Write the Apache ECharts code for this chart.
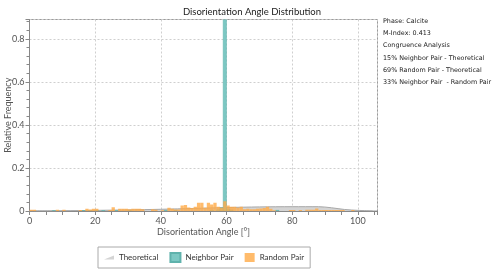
<!DOCTYPE html>
<html><head><meta charset="utf-8">
<script src="https://cdn.jsdelivr.net/npm/echarts@6/dist/echarts.min.js"></script>
<style>html,body{margin:0;padding:0;background:#fff}#c{width:500px;height:273px}</style>
</head><body><div id="c"></div>
<script>
// Bins are 1 degree wide, value = bin start angle
var randomAngles = [0,1,8,10,15,17,18,19,20,24,25,27,28,29,30,31,32,33,34,37,38,40,42,43,44,45,46,47,48,49,50,51,52,53,54,55,56,57,58,59,60,61,62,63,64,65,66,67,68,69,70,71,72,73,74,79,80,82,84,85,86,87,88,89,90,91,92,93,94,95,98];
var randomValues = [0.006,0.006,0.006,0.006,0.005,0.01,0.007,0.01,0.01,0.005,0.018,0.01,0.01,0.01,0.008,0.01,0.01,0.01,0.008,0.008,0.006,0.004,0.015,0.01,0.007,0.007,0.026,0.028,0.016,0.014,0.02,0.038,0.038,0.015,0.038,0.03,0.038,0.02,0.015,0.045,0.025,0.02,0.02,0.015,0.02,0.008,0.01,0.008,0.008,0.01,0.012,0.014,0.02,0.01,0.004,0.005,0.005,0.005,0.006,0.006,0.006,0.012,0.005,0.005,0.005,0.005,0.005,0.005,0.005,0.005,0.005];
var neighborAngles = [7,16,18,20,22,26,30,41,44,55,57,58,59,60,61,75];
var neighborValues = [0.002,0.002,0.002,0.002,0.002,0.002,0.002,0.003,0.003,0.004,0.006,0.015,0.93,0.01,0.005,0.003];
var theoAngles = [0,10,20,30,40,50,60,70,80,88,92,96,100,104.5];
var theoValues = [0,0.001,0.003,0.005,0.008,0.012,0.016,0.019,0.02,0.02,0.015,0.007,0.003,0];
var xTickLabels = [0,20,40,60,80,100];
var yTickLabels = [0,0.2,0.4,0.6,0.8];
var infoLines = ['Phase: Calcite','M-Index: 0.413','Congruence Analysis','15% Neighbor Pair - Theoretical','69% Random Pair - Theoretical','33% Neighbor Pair  - Random Pair'];

function zip(a,b){return a.map(function(v,i){return [v,b[i]];});}
function binItem(params, api){
  var x0 = api.value(0), v = api.value(1);
  var p0 = api.coord([x0, v]);
  var p1 = api.coord([x0 + 1, 0]);
  return {type:'rect', shape:{x:p0[0], y:p0[1], width:p1[0]-p0[0], height:p1[1]-p0[1]}, style: api.style()};
}
var chart = echarts.init(document.getElementById('c'), null, {renderer:'canvas'});
var font = 'Lato, "Noto Sans", sans-serif';
chart.setOption({
  animation:false,
  title:[{text:'Disorientation Angle Distribution', left:247, textAlign:'center', top:2,
    textStyle:{fontSize:9.5, fontWeight:'normal', color:'#222', fontFamily:font}},
    {text:infoLines.join('\n'), left:383, top:15, padding:0,
    textStyle:{fontSize:6.4, fontWeight:'normal', color:'#222', fontFamily:'"DejaVu Sans", sans-serif', lineHeight:12.3}}],
  grid:{left:29.5, right:122.5, top:19.5, bottom:62, show:true, borderColor:'#9a9a9a', borderWidth:1, outerBoundsMode:'none', containLabel:false},
  legend:{left:98, top:247, padding:[5,6,5,6], borderColor:'#aaa', borderWidth:1, itemGap:11, itemWidth:10, itemHeight:9,
    textStyle:{fontSize:8, color:'#333', fontFamily:font},
    data:[{name:'Theoretical', icon:'path://M0,10 L20,2 L20,10 Z'},{name:'Neighbor Pair', icon:'rect'},{name:'Random Pair', icon:'rect'}]},
  xAxis:{type:'value', min:0, max:106, interval:20,
    name:'Disorientation Angle [°]', nameLocation:'middle', nameGap:17, nameMoveOverlap:false,
    nameTextStyle:{fontSize:9, color:'#555', fontFamily:font},
    axisLine:{show:true, lineStyle:{color:'#888'}},
    axisTick:{show:true, length:4, lineStyle:{color:'#888'}},
    minorTick:{show:true, splitNumber:4, length:4, lineStyle:{color:'#888'}},
    axisLabel:{fontSize:9, color:'#555', margin:6, fontFamily:font,
      formatter:function(v){return xTickLabels.indexOf(v)>=0 ? String(v) : '';}},
    splitLine:{show:true, lineStyle:{color:'#cfcfcf', type:[2,2]}}},
  yAxis:{type:'value', min:0, max:0.89, interval:0.2,
    name:'Relative Frequency', nameLocation:'middle', nameGap:17, nameMoveOverlap:false,
    nameTextStyle:{fontSize:9, color:'#555', fontFamily:font},
    axisLine:{show:true, lineStyle:{color:'#888'}},
    axisTick:{show:true, length:4, lineStyle:{color:'#888'}},
    minorTick:{show:true, splitNumber:5, length:3, lineStyle:{color:'#888'}},
    axisLabel:{fontSize:9, color:'#555', margin:5, fontFamily:font,
      formatter:function(v){for(var i=0;i<yTickLabels.length;i++){if(Math.abs(v-yTickLabels[i])<1e-6)return String(yTickLabels[i]);}return '';}},
    splitLine:{show:true, lineStyle:{color:'#cfcfcf', type:[2,2]}}},
  series:[
    {name:'Theoretical', type:'line', data:zip(theoAngles,theoValues), symbol:'none', smooth:0.3,
      lineStyle:{color:'#a8a8a8', width:1}, itemStyle:{color:'#d4d4d4', borderColor:'#999'},
      areaStyle:{color:'#d4d4d4', opacity:1}, z:2},
    {name:'Neighbor Pair', type:'custom', renderItem:binItem, clip:true, data:zip(neighborAngles,neighborValues),
      itemStyle:{color:'#7cc8c3', borderColor:'#5fb2ac', borderWidth:0.5}, z:3},
    {name:'Random Pair', type:'custom', renderItem:binItem, clip:true, data:zip(randomAngles,randomValues),
      itemStyle:{color:'rgba(255,170,70,0.8)'}, z:4}
  ]
});
</script></body></html>
